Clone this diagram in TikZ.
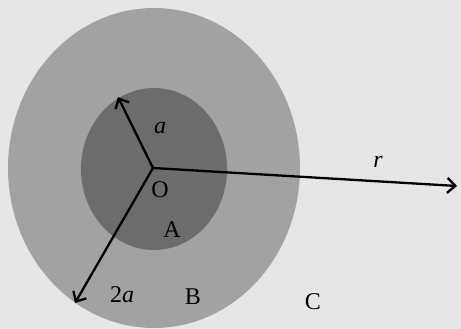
\documentclass[tikz,border=0pt]{standalone}
\usepackage{fontspec}
\setmainfont{Liberation Serif}
\usetikzlibrary{arrows.meta}
\definecolor{paper}{HTML}{E6E6E4}
\definecolor{outerc}{HTML}{A2A2A2}
\definecolor{innerc}{HTML}{6C6C6C}
\tikzset{
  lbl/.style={font=\fontsize{24}{28}\selectfont, inner sep=0pt},
  vec/.style={line width=2.3pt, -{Straight Barb[length=8pt,width=15pt,line width=2.3pt]}}
}
\begin{document}
\begin{tikzpicture}[x=1pt,y=-1pt]
\useasboundingbox (0,0) rectangle (461,329);
\fill[paper] (0,0) rectangle (461,329);
\begin{scope}
\clip (0,0) rectangle (461,329);
\fill[outerc] (154,168) ellipse [x radius=146, y radius=160];
\fill[innerc] (154,169) ellipse [x radius=73, y radius=81];
\end{scope}
\coordinate (O) at (153,168);
\coordinate (ea) at (118,97);
\coordinate (e2a) at (75,303);
\coordinate (er) at (457,186);
\draw[vec] (O) -- (ea);
\draw[vec] (O) -- (e2a);
\draw[vec] (O) -- (er);
\node[lbl] (la) at (160,128) {\itshape a};
\node[lbl] (lr) at (378,162) {\itshape r};
\node[lbl] (lO) at (160,190) {O};
\node[lbl] (lA) at (172,230) {A};
\node[lbl] (l2a) at (122,295) {2\itshape a};
\node[lbl] (lB) at (193,297) {B};
\node[lbl] (lC) at (313,302) {C};
\end{tikzpicture}
\end{document}
